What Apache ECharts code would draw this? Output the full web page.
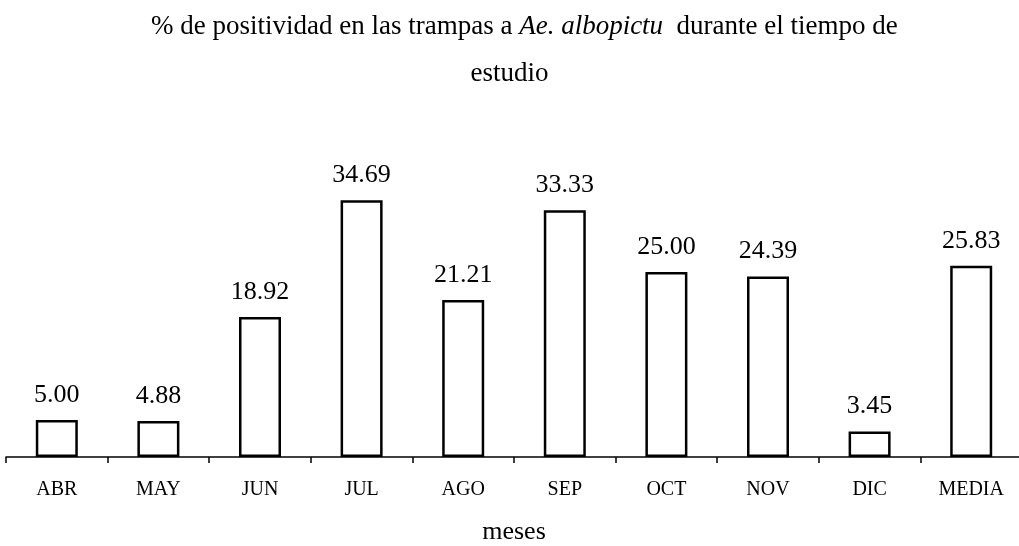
<html>
<head>
<meta charset="utf-8">
<title>positividad trampas</title>
<script src="https://cdn.jsdelivr.net/npm/echarts@6/dist/echarts.min.js"></script>
<style>
  body { margin: 0; background: #fff; }
  #main { width: 1019px; height: 546px; }
</style>
</head>
<body>
<div id="main"></div>
<script type="text/javascript">
var meses = ['ABR', 'MAY', 'JUN', 'JUL', 'AGO', 'SEP', 'OCT', 'NOV', 'DIC', 'MEDIA'];
var positividad = [5.00, 4.88, 18.92, 34.69, 21.21, 33.33, 25.00, 24.39, 3.45, 25.83];

var serif = '"Liberation Serif", "DejaVu Serif", serif';
var myChart = echarts.init(document.getElementById('main'));

var option = {
  backgroundColor: '#fff',
  animation: false,
  title: [{
    // primera linea del titulo, con el nombre de la especie en cursiva
    text: '{n|% de positividad en las trampas a }{i|Ae. albopictu}{n|  durante el tiempo de}',
    left: 146,
    top: 8,
    textStyle: {
      fontFamily: serif,
      fontWeight: 'normal',
      color: '#000',
      rich: {
        n: { fontFamily: serif, fontSize: 27, color: '#000' },
        i: { fontFamily: serif, fontSize: 27, fontStyle: 'italic', color: '#000' }
      }
    }
  }, {
    text: 'estudio',
    left: 'center',
    top: 55,
    textStyle: { fontFamily: serif, fontWeight: 'normal', fontSize: 27, color: '#000' }
  }],
  grid: { left: 6, width: 1016, top: 161, bottom: 89, containLabel: false, outerBoundsMode: 'none' },
  xAxis: {
    type: 'category',
    data: meses,
    name: 'meses',
    nameLocation: 'middle',
    nameGap: 62,
    nameTextStyle: { fontFamily: serif, fontSize: 26, color: '#000' },
    axisLine: { lineStyle: { color: '#000', width: 1.5 } },
    axisTick: { show: true, length: 6, lineStyle: { color: '#000', width: 1.5 } },
    axisLabel: { fontFamily: serif, fontSize: 20, color: '#000', margin: 23 }
  },
  yAxis: {
    type: 'value',
    min: 0,
    max: 40,
    show: false
  },
  series: [{
    type: 'bar',
    data: positividad,
    barWidth: 42,
    itemStyle: { color: '#fff', borderColor: '#000', borderWidth: 2.5 },
    label: {
      show: true,
      position: 'top',
      distance: 12,
      fontFamily: serif,
      fontSize: 26,
      color: '#000',
      formatter: function (p) { return p.value.toFixed(2); }
    }
  }]
};
myChart.setOption(option);
</script>
</body>
</html>
